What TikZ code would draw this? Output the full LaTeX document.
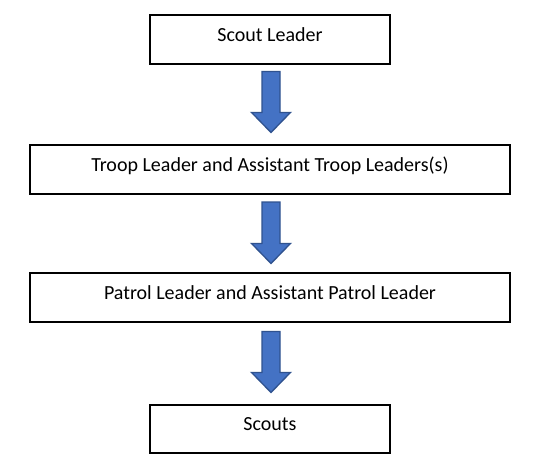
\documentclass[tikz,border=0pt]{standalone}
\usepackage{fontspec}
\setmainfont{Carlito}
\usetikzlibrary{calc}
\definecolor{arrowfill}{HTML}{4472C4}
\definecolor{arrowline}{HTML}{2F528F}
\tikzset{
  box/.style={draw=black, line width=0.8pt, fill=white, font=\fontsize{15pt}{18pt}\selectfont,
    text height=10pt, text depth=7.2pt, inner sep=0pt},
  barrow/.style={fill=arrowfill, draw=arrowline, line width=1pt, line join=miter},
}
\newcommand{\blockarr}[2]{%
  \draw[barrow] let \p1=(#1), \p2=(#2) in
    (\x1-6.75pt,\y1) -- (\x1+6.75pt,\y1) -- (\x1+6.75pt,\y2+15pt) -- (\x1+14.6pt,\y2+15pt)
    -- (\x1,\y2) -- (\x1-14.6pt,\y2+15pt) -- (\x1-6.75pt,\y2+15pt) -- cycle;}
\begin{document}
\begin{tikzpicture}[x=0.75pt,y=-0.75pt]
\useasboundingbox[fill=white] (0,0) rectangle (542,474);
\node[box, minimum width=180pt, minimum height=36.75pt] (sl) at (270,39.5) {Scout Leader};
\node[box, minimum width=360pt, minimum height=36.75pt] (tl) at (270,169.5) {Troop Leader and Assistant Troop Leaders(s)};
\node[box, minimum width=360pt, minimum height=36.75pt] (pl) at (270,297.5) {Patrol Leader and Assistant Patrol Leader};
\node[box, minimum width=180pt, minimum height=36pt] (sc) at (270,429) {Scouts};
\coordinate (a1s) at ($(sl.south)+(1,7)$);
\coordinate (a1e) at ($(tl.north)+(1,-12)$);
\coordinate (a2s) at ($(tl.south)+(1,7.5)$);
\coordinate (a2e) at ($(pl.north)+(1,-9)$);
\coordinate (a3s) at ($(pl.south)+(1,9)$);
\coordinate (a3e) at ($(sc.north)+(1,-12)$);
\blockarr{a1s}{a1e}
\blockarr{a2s}{a2e}
\blockarr{a3s}{a3e}
\end{tikzpicture}
\end{document}
